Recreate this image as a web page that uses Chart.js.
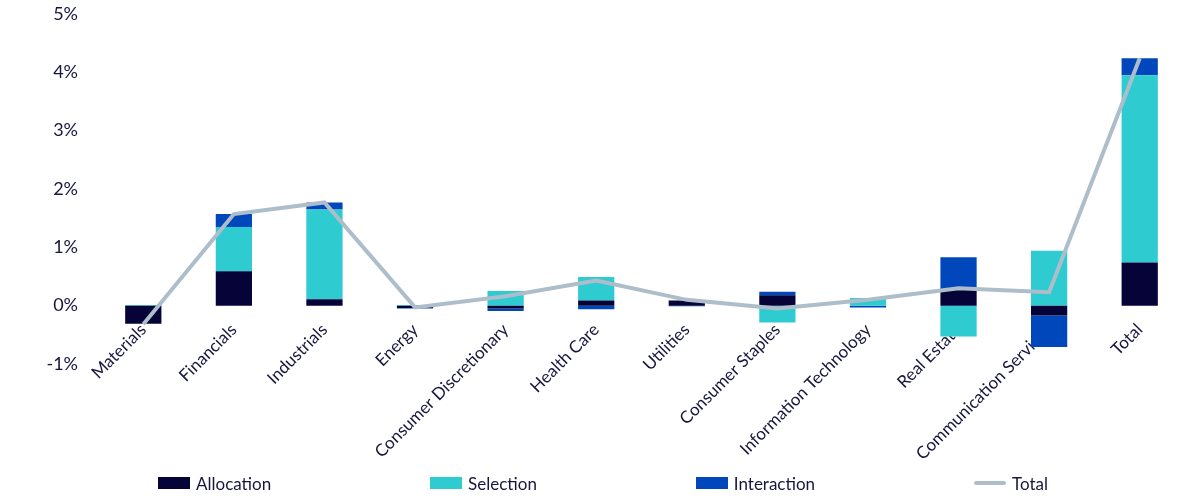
<!DOCTYPE html>
<html lang="en">
<head>
    <meta charset="UTF-8">
    <title>Attribution by Sector</title>
    <script src="https://cdn.jsdelivr.net/npm/chart.js"></script>
    <style>
        html, body { margin: 0; padding: 0; background: #ffffff; }
        #wrap { width: 1200px; height: 500px; position: relative; }
        #legend {
            position: absolute; left: 158px; top: 473px; width: 890px; height: 20px;
            display: flex; justify-content: space-between; align-items: center;
            font-family: Lato, "Open Sans", sans-serif; font-size: 17px; color: #16163f;
        }
        .item { display: flex; align-items: center; white-space: nowrap; }
        .swatch { width: 32px; margin-right: 6px; }
    </style>
</head>
<body>
    <div id="wrap">
        <canvas id="attrChart"></canvas>
        <div id="legend"></div>
    </div>

    <script>
        // sector attribution, in %
        const categories = ['Materials', 'Financials', 'Industrials', 'Energy', 'Consumer Discretionary',
            'Health Care', 'Utilities', 'Consumer Staples', 'Information Technology', 'Real Estate',
            'Communication Services', 'Total'];
        const allocation  = [-0.31, 0.59, 0.11, -0.04, -0.05, 0.09, 0.09, 0.18, 0.00, 0.30, -0.17, 0.74];
        const selection   = [0.01, 0.76, 1.54, 0.01, 0.25, 0.40, 0.00, -0.29, 0.13, -0.53, 0.94, 3.21];
        const interaction = [0.00, 0.22, 0.12, -0.01, -0.04, -0.06, -0.01, 0.06, -0.03, 0.53, -0.54, 0.29];
        const total       = [-0.32, 1.57, 1.77, -0.03, 0.16, 0.43, 0.10, -0.05, 0.10, 0.30, 0.23, 4.24];
        const yTicks = [-1, 0, 1, 2, 3, 4, 5];

        const textColor = '#16163f';
        const fontFamily = 'Lato, "Open Sans", sans-serif';

        // legend as html, built from the datasets
        const htmlLegend = {
            id: 'htmlLegend',
            afterUpdate(chart) {
                const box = document.getElementById('legend');
                box.innerHTML = '';
                chart.data.datasets.forEach(ds => {
                    const item = document.createElement('div');
                    item.className = 'item';
                    const sw = document.createElement('span');
                    sw.className = 'swatch';
                    sw.style.background = ds.type === 'line' ? ds.borderColor : ds.backgroundColor;
                    sw.style.height = ds.type === 'line' ? '4px' : '12px';
                    if (ds.type === 'line') sw.style.borderRadius = '2px';
                    const txt = document.createElement('span');
                    txt.textContent = ds.label;
                    item.appendChild(sw);
                    item.appendChild(txt);
                    box.appendChild(item);
                });
            }
        };

        const ctx = document.getElementById('attrChart').getContext('2d');

        const attrChart = new Chart(ctx, {
            type: 'bar',
            data: {
                labels: categories,
                datasets: [
                    { label: 'Allocation', data: allocation, backgroundColor: '#050337', stack: 'bars', order: 1 },
                    { label: 'Selection', data: selection, backgroundColor: '#2ecbd1', stack: 'bars', order: 1 },
                    { label: 'Interaction', data: interaction, backgroundColor: '#0047bb', stack: 'bars', order: 1 },
                    {
                        type: 'line', label: 'Total', data: total, stack: 'line', order: 0,
                        borderColor: '#aebdca', backgroundColor: '#aebdca', borderWidth: 4,
                        pointRadius: 0, tension: 0
                    }
                ]
            },
            options: {
                responsive: true,
                maintainAspectRatio: false,
                animation: false,
                layout: { padding: { top: 14, right: 15, left: 0, bottom: 136 } },
                datasets: { bar: { barPercentage: 0.8, categoryPercentage: 0.5 } },
                scales: {
                    x: {
                        stacked: true,
                        position: { y: 0 },
                        grid: { display: false, drawTicks: false },
                        border: { display: false },
                        afterFit: (scale) => {
                            scale.height = 0;
                            scale.paddingLeft = 0; scale.paddingRight = 0;
                            scale.paddingTop = 0; scale.paddingBottom = 0;
                        },
                        ticks: {
                            color: textColor,
                            font: { family: fontFamily, size: 17 },
                            minRotation: 45, maxRotation: 45,
                            padding: 14,
                            autoSkip: false
                        }
                    },
                    y: {
                        stacked: true,
                        min: -1, max: 5,
                        grid: { display: false, drawTicks: false },
                        border: { display: false },
                        afterFit: (scale) => {
                            scale.width = 98;
                            scale.paddingTop = 0; scale.paddingBottom = 0;
                        },
                        afterBuildTicks: (scale) => { scale.ticks = yTicks.map(v => ({ value: v })); },
                        ticks: {
                            color: textColor,
                            font: { family: fontFamily, size: 18 },
                            padding: 20,
                            callback: (v) => v + '%'
                        }
                    }
                },
                plugins: {
                    legend: { display: false },
                    tooltip: { enabled: false }
                }
            },
            plugins: [htmlLegend]
        });
    </script>
</body>
</html>
